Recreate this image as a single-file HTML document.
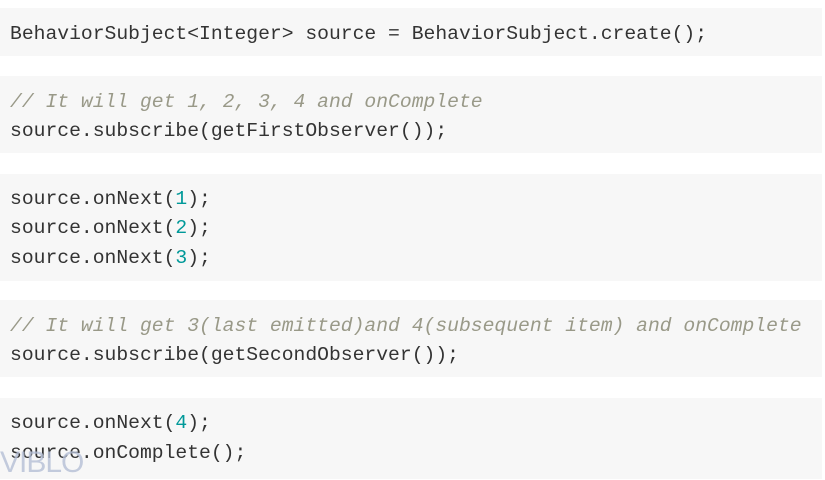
<!DOCTYPE html>
<html><head><style>
body{margin:0;width:825px;height:479px;background:#fff;position:relative;overflow:hidden;font-family:"Liberation Mono",monospace;font-size:19.7px;color:#333}
.b{position:absolute;left:0;width:822px;background:#f7f7f7}
.l{position:absolute;left:10px;white-space:pre;line-height:29px}
.c{color:#998;font-style:italic}
.n{color:#099}
.v{position:absolute;left:0;top:446px;font-family:"Liberation Sans",sans-serif;font-size:30px;color:#b5bfd6;letter-spacing:-1px;opacity:.8}
</style></head><body>
<div class="b" style="top:8px;height:48px"></div>
<div class="b" style="top:76px;height:77px"></div>
<div class="b" style="top:174px;height:107px"></div>
<div class="b" style="top:300px;height:77px"></div>
<div class="b" style="top:398px;height:81px"></div>
<div class="l" style="top:20px">BehaviorSubject&lt;Integer&gt; source = BehaviorSubject.create();</div>
<div class="l c" style="top:88px">// It will get 1, 2, 3, 4 and onComplete</div>
<div class="l" style="top:117px">source.subscribe(getFirstObserver());</div>
<div class="l" style="top:185px">source.onNext(<span class="n">1</span>);</div>
<div class="l" style="top:214px">source.onNext(<span class="n">2</span>);</div>
<div class="l" style="top:244px">source.onNext(<span class="n">3</span>);</div>
<div class="l c" style="top:312px">// It will get 3(last emitted)and 4(subsequent item) and onComplete</div>
<div class="l" style="top:341px">source.subscribe(getSecondObserver());</div>
<div class="l" style="top:409px">source.onNext(<span class="n">4</span>);</div>
<div class="l" style="top:439px">source.onComplete();</div>
<div class="v">VIBLO</div>
</body></html>
